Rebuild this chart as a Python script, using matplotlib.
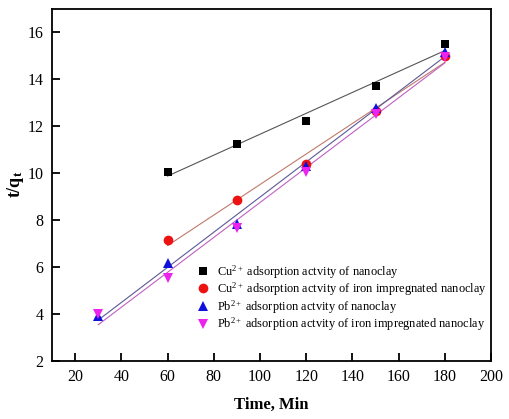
import numpy as np
import matplotlib
matplotlib.use("Agg")
import matplotlib.pyplot as plt

plt.rcParams['font.family'] = ['Liberation Serif', 'DejaVu Serif']
plt.rcParams['mathtext.fontset'] = 'custom'
plt.rcParams['mathtext.rm'] = 'Liberation Serif'
plt.rcParams['mathtext.bf'] = 'Liberation Serif:bold'
plt.rcParams['mathtext.it'] = 'Liberation Serif:italic'

# Data
t_cu_clay = [60, 90, 120, 150, 180]
y_cu_clay = [10.05, 11.25, 12.2, 13.7, 15.5]
t_cu_iron = [60, 90, 120, 150, 180]
y_cu_iron = [7.15, 8.85, 10.4, 12.65, 15.0]
t_pb_clay = [30, 60, 90, 120, 150, 180]
y_pb_clay = [3.9, 6.15, 7.85, 10.3, 12.75, 15.15]
t_pb_iron = [30, 60, 90, 120, 150, 180]
y_pb_iron = [4.0, 5.55, 7.65, 10.05, 12.5, 14.95]

labels = [
    r"Cu$^{\mathrm{2+}}$ adsorption actvity of nanoclay",
    r"Cu$^{\mathrm{2+}}$ adsorption actvity of iron impregnated nanoclay",
    r"Pb$^{\mathrm{2+}}$ adsorption actvity of nanoclay",
    r"Pb$^{\mathrm{2+}}$ adsorption actvity of iron impregnated nanoclay",
]

fig = plt.figure(figsize=(5.1, 4.19), dpi=100)
ax = fig.add_axes([0.102, 0.1384, 0.861, 0.8413])

series = [
    (t_cu_clay, y_cu_clay, 's', 'black', '#555555', 6),
    (t_cu_iron, y_cu_iron, 'o', '#ee1111', '#c07a6a', 7),
    (t_pb_clay, y_pb_clay, '^', '#1010dd', '#5a5a96', 7),
    (t_pb_iron, y_pb_iron, 'v', '#ee22ee', '#c060c0', 7),
]

for (tx, ty, m, c, lc, ms) in series:
    tx = np.array(tx, float); ty = np.array(ty, float)
    p = np.polyfit(tx, ty, 1)
    xs = np.array([tx.min(), tx.max()])
    ax.plot(xs, np.polyval(p, xs), color=lc, lw=0.8, zorder=2)

handles = []
for (tx, ty, m, c, lc, ms), lab in zip(series, labels):
    h, = ax.plot(tx, ty, linestyle='none', marker=m, color=c, markersize=ms,
                 markeredgewidth=0, label=lab, zorder=3)
    handles.append(h)

ax.set_xlim(10, 200)
ax.set_ylim(2, 17)
ax.set_xticks(np.arange(20, 201, 20))
ax.set_yticks(np.arange(2, 17, 2))

ax.tick_params(direction='in', length=6, width=1.3, labelsize=11.5,
               top=False, right=False, pad=6)
for s in ax.spines.values():
    s.set_linewidth(1.3)

ax.set_xlabel("Time, Min", fontsize=12, fontweight='bold', labelpad=8)
ax.set_ylabel(r"$\mathbf{t/q_t}$", fontsize=13, labelpad=1)

ax.legend(handles=handles, loc='upper left', bbox_to_anchor=(0.319, 0.292),
          frameon=False, fontsize=8.9, handlelength=1.0, handletextpad=0.6,
          labelspacing=0.0, borderaxespad=0)

fig.savefig("out.png", dpi=100)
